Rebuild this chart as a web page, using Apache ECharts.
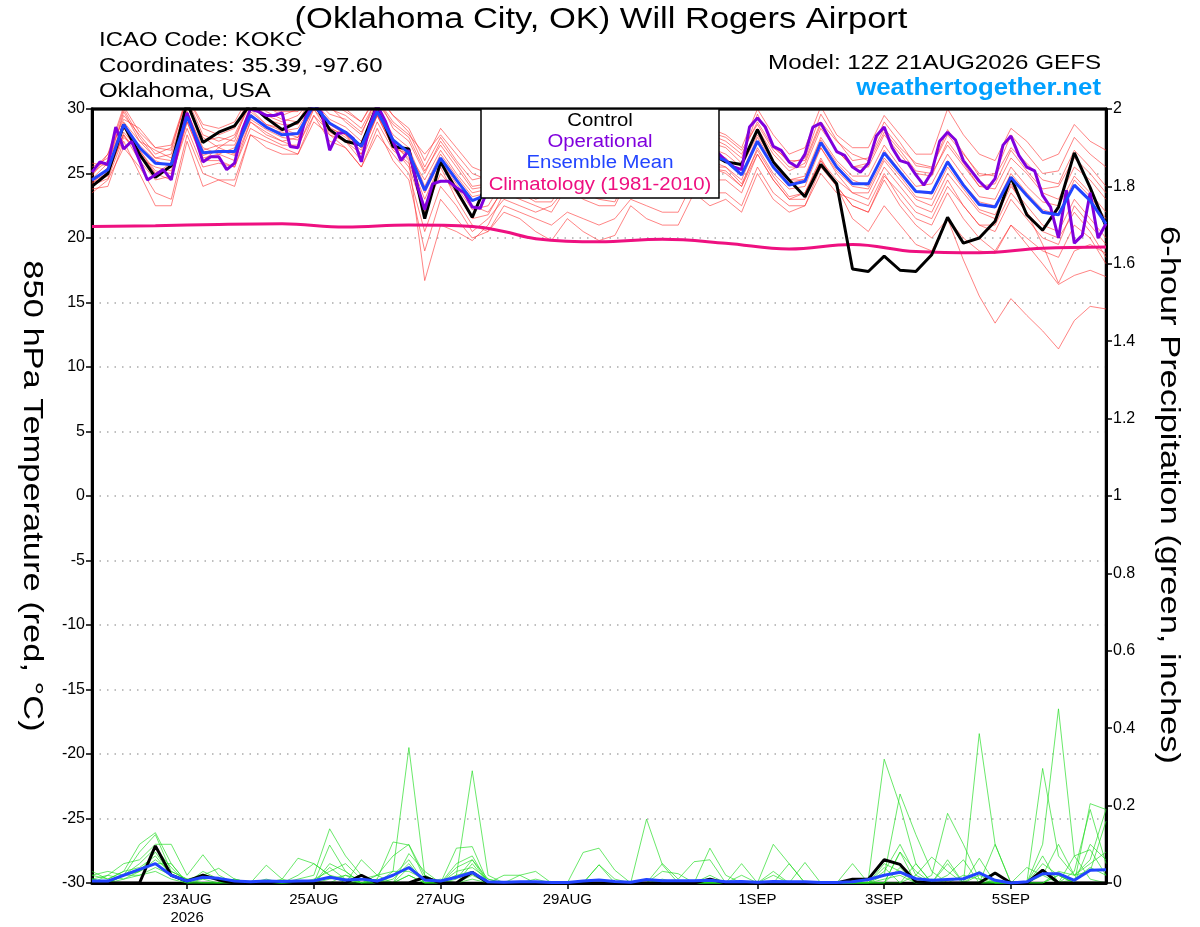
<!DOCTYPE html>
<html><head><meta charset="utf-8">
<script src="https://cdn.jsdelivr.net/npm/echarts@6/dist/echarts.min.js"></script>
<style>html,body{margin:0;padding:0;background:#fff}#c{width:1200px;height:927px}</style>
</head><body><div id="c"></div>
<script>
// ---- Data (x = hours after 12Z 21AUG2026) ----
const stepHours = 6;           // ensemble / control / mean
const opStepHours = 3;         // operational
const tickHours = [36, 84, 132, 180, 252, 300, 348];
const tickLabels = ['23AUG\n2026', '25AUG', '27AUG', '29AUG', '1SEP', '3SEP', '5SEP'];
const tempTicks = {min: -30, max: 30, interval: 5};
const precipTicks = {min: 0, max: 2, interval: 0.2};

const controlTemp = [24.0,25.0,28.8,26.5,24.7,25.6,30.5,27.4,28.2,28.7,
 30.4,29.3,28.4,29.0,30.5,28.4,27.5,27.2,30.3,27.1,
 26.9,21.5,25.9,23.7,21.6,24.5,24.8,24.2,23.8,24.3,
 26.2,25.2,24.6,24.4,26.8,26.0,25.2,25.4,27.4,26.6,
 25.9,25.7,28.4,25.9,24.5,23.2,25.7,24.2,17.6,17.4,
 18.6,17.5,17.4,18.7,21.6,19.6,20.0,21.3,24.7,21.8,
 20.6,22.4,26.6,23.9,20.9];

const meanTemp = [24.5,25.3,28.8,27.0,25.8,25.7,29.4,26.6,26.7,26.7,
 29.5,28.6,28.0,28.1,30.3,28.9,28.2,27.1,29.8,27.6,
 26.6,23.7,26.2,24.5,22.9,23.4,25.0,24.8,24.0,24.2,
 26.3,25.6,25.0,24.9,27.0,26.2,25.5,25.5,27.3,26.5,
 26.0,24.9,27.5,25.5,24.1,24.4,27.4,25.5,24.2,24.2,
 26.6,25.1,23.6,23.5,25.9,24.1,22.6,22.4,24.7,23.3,
 22.0,21.8,24.1,22.9,21.1];

const operationalTemp = [25.1,25.9,25.7,28.6,26.9,27.5,26.0,24.5,24.9,25.3,
 24.5,27.3,29.7,27.9,25.9,26.3,26.3,25.3,25.8,28.4,
 30.0,29.8,29.5,29.5,29.7,27.1,27.0,29.4,30.4,29.7,
 26.8,28.1,28.2,27.7,25.9,28.6,30.3,29.1,27.5,26.0,
 26.8,24.2,22.2,24.2,24.4,24.4,23.9,23.5,22.4,22.3,
 23.8,24.5,25.0,26.5,27.5,26.8,25.6,25.0,24.8,25.5,
 26.0,27.8,28.4,27.0,25.9,25.2,25.0,25.8,26.6,28.0,
 28.5,27.3,26.2,25.6,25.4,26.0,27.0,28.2,27.6,26.6,
 26.0,25.5,25.3,28.6,29.3,28.6,27.1,26.8,25.9,25.5,
 26.5,28.6,28.9,27.8,26.7,26.4,25.5,25.1,25.8,27.9,
 28.6,27.0,26.0,25.8,24.9,24.1,25.1,27.5,28.2,27.6,
 26.0,25.2,24.4,23.8,24.6,27.2,27.9,26.4,25.5,25.2,
 23.3,22.4,20.0,23.7,19.6,20.2,23.5,20.0,21.1];

const climHours = [0,24,48,72,96,120,144,156,168,192,216,240,264,288,312,336,360,384];
const climTemp  = [20.9,20.95,21.05,21.1,20.85,21.0,20.9,20.5,19.95,19.7,19.9,19.6,19.15,19.5,18.95,18.85,19.2,19.3];

const memberTemps = [
 [25.0,26.0,29.5,28.0,26.5,27.0,30.8,28.0,27.5,28.0,30.6,29.5,29.0,29.5,31.0,30.0,29.5,28.5,30.8,29.0,28.0,26.5,28.0,26.5,25.0,24.5,26.5,26.0,25.5,25.8,28.0,27.0,26.5,26.0,28.5,27.5,27.0,26.8,28.8,28.0,27.5,26.5,29.0,27.0,26.0,26.0,29.0,27.5,26.5,26.0,28.5,27.0,25.8,25.5,28.0,26.5,25.0,24.8,27.0,25.8,24.5,24.2,26.8,25.5,24.0],
 [24.0,25.0,28.0,26.5,25.0,24.5,29.0,26.0,26.0,25.5,29.0,28.0,27.5,27.0,30.0,28.0,27.5,26.5,29.5,27.0,25.5,22.0,25.0,23.5,21.5,21.8,24.0,23.8,23.0,23.5,25.5,24.5,24.0,24.0,26.0,25.2,24.5,24.5,26.5,25.5,25.0,24.0,26.5,24.5,23.0,23.0,26.0,24.0,22.5,22.0,24.5,22.5,21.0,20.0,21.5,18.3,15.5,13.4,15.3,14.0,12.8,11.4,13.6,14.7,14.5],
 [23.5,24.5,27.0,25.5,23.5,23.0,28.0,25.0,24.5,24.5,28.0,27.0,26.5,26.5,29.5,27.5,27.0,25.5,28.5,26.0,24.5,19.0,23.0,21.5,20.0,20.5,22.5,22.0,21.5,21.0,22.0,21.5,21.0,21.5,23.0,22.5,22.0,22.0,24.5,23.5,23.5,22.5,25.5,23.5,22.5,22.5,25.0,23.5,23.0,22.5,25.0,23.0,21.5,21.0,23.5,21.5,20.0,19.0,21.0,19.5,18.0,16.4,17.1,17.5,17.0],
 [24.2,25.5,28.5,27.2,26.0,25.5,29.8,27.0,26.5,27.0,29.8,28.8,28.5,28.0,30.5,29.0,28.0,27.0,29.5,27.5,26.0,16.7,21.0,20.5,19.8,21.0,23.5,23.0,22.5,22.0,24.0,23.5,23.0,22.8,25.5,24.5,24.0,24.0,26.5,25.5,25.5,24.5,27.5,25.5,24.5,24.5,27.0,25.0,23.5,23.5,26.0,24.5,23.0,22.5,25.0,23.5,22.0,21.5,24.0,22.5,21.0,20.5,23.0,21.5,20.0],
 [25.5,26.2,30.0,27.8,26.2,26.5,30.5,27.5,27.8,27.5,30.8,29.8,29.2,29.0,31.2,30.2,29.0,28.0,31.0,28.5,27.5,25.0,27.5,25.8,24.0,24.2,26.0,25.8,25.2,25.6,27.5,26.8,26.2,26.0,28.2,27.2,26.6,26.6,28.6,27.8,27.2,26.2,29.6,27.2,25.8,26.2,29.6,27.6,26.0,26.2,29.0,27.4,25.6,25.4,28.4,26.6,24.8,25.0,28.0,26.5,25.0,25.2,27.8,26.5,25.5],
 [24.8,26.5,29.2,28.5,27.0,26.8,31.0,28.5,28.0,28.5,31.0,30.0,29.8,29.8,31.5,30.5,29.8,29.0,31.2,29.5,28.5,26.0,28.5,27.0,25.5,25.0,27.2,26.8,26.0,26.5,28.5,27.5,27.0,26.8,29.0,28.0,27.5,27.5,29.5,28.5,28.0,27.0,30.0,28.0,26.5,27.0,30.2,28.0,27.0,27.0,29.5,28.0,26.5,26.5,30.0,28.0,26.5,26.0,28.5,27.5,26.0,26.5,28.8,27.5,26.8],
 [24.3,24.8,28.2,26.8,25.2,25.0,29.0,26.2,26.5,26.0,29.0,28.2,27.5,27.8,30.0,28.5,28.0,26.5,29.5,27.0,26.5,24.5,26.8,25.0,23.5,23.8,25.5,25.0,24.5,24.8,26.8,26.0,25.5,25.2,27.5,26.5,26.0,25.8,27.8,27.0,26.5,25.5,28.0,26.0,24.5,24.8,27.8,26.0,24.8,24.8,27.2,25.5,24.0,24.2,26.5,24.8,23.2,23.0,25.5,24.0,22.8,22.5,24.8,23.5,22.0],
 [23.8,24.0,27.5,25.0,22.5,22.5,27.5,24.0,24.5,24.0,28.0,27.5,27.0,26.5,29.0,28.0,27.0,25.5,28.0,26.5,25.0,20.5,24.0,22.5,20.5,21.5,23.0,22.5,22.0,22.5,24.0,23.0,22.5,22.5,25.0,24.0,23.5,23.5,25.5,24.5,24.5,23.5,26.5,24.5,23.0,23.5,26.0,24.5,23.5,23.0,25.5,24.0,22.5,22.0,24.5,22.5,21.0,20.5,23.0,21.5,20.0,19.5,22.5,21.0,19.5],
 [24.6,25.8,29.0,27.5,26.2,26.0,29.8,26.8,27.2,27.2,30.0,28.8,28.3,28.5,30.6,29.2,28.6,27.5,30.0,28.0,27.0,24.0,26.5,24.8,23.2,23.5,25.2,25.0,24.3,24.5,26.5,25.8,25.2,25.0,27.2,26.4,25.7,25.6,27.5,26.8,26.2,25.0,27.8,25.8,24.2,24.6,27.6,25.8,24.5,24.0,26.8,25.2,23.6,23.4,26.0,24.2,22.8,22.5,25.0,23.5,22.2,21.8,24.5,23.2,21.5],
 [24.0,25.2,28.0,26.0,24.5,24.8,28.5,25.5,25.8,25.5,28.5,27.8,27.2,27.2,29.5,28.2,27.5,26.0,29.0,26.8,25.8,22.5,25.5,23.0,21.0,20.5,22.0,21.5,20.5,19.8,21.5,20.5,19.8,20.2,22.5,21.5,21.0,21.0,23.5,22.5,23.0,22.0,25.0,23.0,22.0,22.5,25.5,24.0,22.5,22.0,24.8,23.5,22.0,21.5,24.0,22.5,21.0,21.0,23.5,22.0,20.5,20.0,22.0,20.5,18.5],
 [25.2,26.5,30.2,28.2,27.0,27.2,31.0,28.8,28.5,29.0,31.2,30.2,29.5,30.0,31.5,30.8,30.0,29.0,31.0,29.5,28.2,25.5,27.8,26.0,24.5,24.8,26.8,26.5,25.8,26.2,28.2,27.2,26.8,26.5,28.8,27.8,27.2,27.0,29.0,28.2,27.8,26.8,28.8,26.8,25.5,25.5,28.5,26.8,25.5,25.5,28.0,26.5,25.0,24.8,27.5,25.8,24.0,23.8,26.2,25.0,23.5,23.0,25.5,24.5,23.0],
 [24.4,25.0,28.6,26.2,25.5,25.2,29.2,26.4,26.8,26.4,29.2,28.4,27.8,27.6,30.2,28.6,27.8,26.8,29.6,27.2,26.2,23.0,25.8,24.0,22.2,22.5,24.5,24.0,23.2,23.8,25.8,25.0,24.5,24.2,26.5,25.5,25.0,24.8,26.8,26.0,25.5,24.2,26.8,24.8,23.2,23.5,26.2,24.0,21.5,20.5,22.5,21.0,19.5,19.0,21.5,20.0,19.0,18.8,21.0,20.0,19.0,18.5,21.0,20.0,18.0],
 [25.8,25.6,29.8,27.5,26.8,26.2,30.2,27.8,27.0,27.8,30.4,29.2,28.8,28.8,30.8,29.6,29.2,28.2,30.5,28.8,27.8,25.2,27.2,25.5,23.8,24.0,25.8,25.5,24.8,25.2,27.2,26.4,25.8,25.6,27.8,26.8,26.2,26.2,28.2,27.4,27.0,25.8,28.5,26.5,25.2,25.8,28.8,26.8,25.5,25.8,28.2,26.8,25.2,25.0,27.2,25.6,24.0,24.2,26.8,25.2,23.8,24.0,26.2,25.0,23.5],
 [24.1,24.6,27.8,26.8,25.0,25.8,29.6,26.0,27.0,26.5,29.6,28.5,28.2,27.8,30.4,28.8,28.0,27.0,29.8,27.4,26.4,23.5,26.0,24.2,22.5,22.0,23.8,23.5,22.8,22.8,24.8,24.0,23.5,23.2,25.6,24.8,24.2,24.2,26.0,25.4,25.2,24.0,27.0,25.0,23.8,24.0,27.0,25.2,24.0,23.8,26.2,24.8,23.2,23.0,25.5,23.8,22.2,21.8,24.2,22.0,19.5,16.5,19.0,19.5,18.8]
];

const controlPrecip = [0,0,0,0,0.096,0.02,0.005,0.02,0.008,0,
 0,0,0.004,0,0,0,0,0.02,0,0,
 0,0.015,0,0,0.028,0,0,0,0,0,
 0,0,0,0,0,0,0,0,0,0.01,
 0,0,0,0,0,0,0,0,0.01,0.01,
 0.06,0.048,0.003,0,0,0,0,0.026,0,0,
 0.033,0,0,0,0];

const meanPrecip = [0.005,0.005,0.02,0.035,0.05,0.02,0.005,0.015,0.012,0.005,
 0.003,0.005,0.004,0.005,0.006,0.015,0.008,0.01,0.005,0.02,
 0.04,0.008,0.005,0.015,0.027,0.003,0.002,0.003,0.003,0.001,
 0.001,0.005,0.008,0.004,0.002,0.009,0.006,0.006,0.006,0.007,
 0.003,0.004,0.002,0.004,0.003,0.003,0.001,0.001,0.003,0.009,
 0.02,0.028,0.011,0.007,0.009,0.011,0.026,0.007,0,0.003,
 0.024,0.024,0.007,0.033,0.034];

const memberPrecips = [
 [0.02,0.01,0.03,0.1,0.13,0.05,0,0.02,0.01,0, 0,0,0,0,0,0.01,0.02,0,0,0.03, 0.35,0.02,0,0,0.01,0,0,0,0,0, 0,0,0,0,0,0,0,0,0,0, 0,0,0,0,0,0,0,0,0,0.01, 0.32,0.2,0.05,0,0,0,0,0,0,0, 0.1,0.45,0.07,0.01,0],
 [0.01,0,0.02,0.08,0.125,0.03,0.01,0,0,0, 0,0,0,0.01,0.02,0.14,0.07,0.02,0,0, 0.02,0,0,0.02,0.29,0.02,0,0,0,0, 0,0,0,0,0,0,0,0,0,0, 0,0,0,0,0,0,0,0,0,0, 0.02,0.23,0.125,0.03,0,0,0.386,0.1,0,0, 0,0.02,0,0.205,0.19],
 [0,0.02,0.05,0.06,0.1,0.1,0.02,0.073,0.02,0, 0,0.01,0,0,0,0.098,0.03,0,0.01,0.106, 0.098,0.01,0,0.09,0.094,0,0,0,0,0, 0,0,0,0,0,0.165,0.047,0,0,0, 0,0,0,0,0,0,0,0,0,0, 0,0.08,0,0.02,0.18,0.1,0.01,0,0,0, 0.296,0.07,0.02,0.03,0.16],
 [0.03,0.01,0.03,0.04,0.07,0.02,0,0.02,0.038,0.01, 0,0,0,0.02,0.05,0.02,0,0.06,0.02,0, 0.076,0.03,0,0.03,0.04,0.01,0,0,0,0, 0,0.079,0.09,0.033,0,0,0,0,0,0, 0,0,0,0.1,0.05,0,0,0,0,0, 0,0,0.02,0.067,0.03,0,0,0,0,0, 0.02,0,0.03,0.19,0.05],
 [0.01,0,0.02,0.03,0.05,0.05,0,0.01,0,0.01, 0,0.046,0.01,0.064,0.05,0.02,0.01,0,0.02,0.07, 0.1,0.02,0,0.01,0.06,0,0.02,0.02,0.03,0, 0,0,0.047,0,0,0,0,0,0,0.09, 0.02,0,0,0,0,0.053,0,0,0,0, 0.05,0.03,0,0,0.02,0.06,0,0.1,0,0, 0.07,0,0.07,0.086,0.02],
 [0.02,0.03,0.02,0.03,0.08,0.02,0,0.03,0.01,0, 0,0,0,0,0.01,0.03,0.05,0.01,0,0.02, 0.06,0,0,0.05,0.07,0,0,0.02,0,0, 0,0,0.047,0.01,0,0,0.05,0.01,0.055,0.06, 0,0.05,0,0.02,0,0,0,0,0.05,0, 0,0.08,0.03,0,0,0,0.064,0,0,0.04, 0.02,0.1,0.02,0.06,0.19],
 [0,0,0.01,0.02,0.03,0.01,0,0,0,0, 0,0,0,0,0,0,0,0,0,0.01, 0.05,0,0,0,0.05,0,0,0,0,0, 0,0,0,0,0,0,0,0,0,0, 0,0,0,0,0.05,0,0,0,0,0, 0.01,0.02,0,0,0,0,0,0,0,0, 0.05,0.02,0,0,0],
 [0.01,0,0.02,0.02,0.04,0.02,0,0,0,0.01, 0,0,0,0,0,0.04,0.01,0,0,0, 0.04,0,0.01,0,0.02,0,0,0,0,0, 0,0,0,0,0,0,0.03,0.024,0,0, 0,0,0,0,0,0,0,0,0,0, 0.04,0,0.05,0,0.05,0,0.03,0,0,0, 0,0.02,0,0.1,0.06],
 [0.01,0.02,0.01,0.03,0.06,0.03,0.01,0.02,0.01,0, 0,0,0.01,0,0,0,0.02,0.01,0.02,0.03, 0.03,0.01,0,0.02,0.03,0,0,0,0.01,0, 0,0,0,0,0,0.01,0,0,0,0.02, 0,0,0,0.03,0,0,0,0,0,0, 0,0.04,0,0.01,0,0.02,0.01,0,0,0, 0.03,0,0.01,0.04,0.02],
 [0,0,0.02,0.05,0.09,0.04,0,0,0,0, 0,0,0,0,0,0.05,0.03,0,0.01,0, 0.02,0,0,0.04,0.06,0.01,0,0,0,0, 0,0,0,0,0,0,0.01,0,0,0, 0,0.02,0,0,0,0,0,0,0,0, 0.03,0.1,0.02,0,0.06,0,0.02,0,0,0, 0,0.03,0.02,0.05,0.08]
];

// ---- Build chart ----
const FONT = "'Liberation Sans', Arial, Helvetica, sans-serif";
const C_OP = '#8000dd', C_MEAN = '#2244ff', C_CLIM = '#ee1080', C_RED = '#ff3030', C_GREEN = '#22dd22';
const pairs = (arr, step) => arr.map((v, i) => [i * step, v]);
const series = [];
memberTemps.forEach((m, k) => series.push({type:'line', name:'tm'+k, data:pairs(m, stepHours), yAxisIndex:0, symbol:'none',
  lineStyle:{color:C_RED, width:0.8, opacity:0.75}, z:1, silent:true, animation:false}));
memberPrecips.forEach((m, k) => series.push({type:'line', name:'pm'+k, data:pairs(m, stepHours), yAxisIndex:1, symbol:'none',
  lineStyle:{color:C_GREEN, width:0.8, opacity:0.85}, z:1, silent:true, animation:false}));
series.push({type:'line', name:'clim', data:climHours.map((h,i)=>[h, climTemp[i]]), smooth:0.4, yAxisIndex:0, symbol:'none',
  lineStyle:{color:C_CLIM, width:3}, z:3, animation:false});
series.push({type:'line', name:'ctrlP', data:pairs(controlPrecip, stepHours), yAxisIndex:1, symbol:'none',
  lineStyle:{color:'#000', width:3}, z:4, animation:false});
series.push({type:'line', name:'meanP', data:pairs(meanPrecip, stepHours), yAxisIndex:1, symbol:'none',
  lineStyle:{color:C_MEAN, width:3}, z:5, animation:false});
series.push({type:'line', name:'ctrlT', data:pairs(controlTemp, stepHours), yAxisIndex:0, symbol:'none',
  lineStyle:{color:'#000', width:3}, z:4, animation:false});
series.push({type:'line', name:'opT', data:pairs(operationalTemp, opStepHours), yAxisIndex:0, symbol:'none',
  lineStyle:{color:C_OP, width:3}, z:5, animation:false});
series.push({type:'line', name:'meanT', data:pairs(meanTemp, stepHours), yAxisIndex:0, symbol:'none',
  lineStyle:{color:C_MEAN, width:3}, z:6, animation:false});

const graphic = [
  {type:'line', z:140, shape:{x1:91, y1:109, x2:1107, y2:109}, style:{stroke:'#000', lineWidth:3}},
  {type:'rect', z:150, shape:{x:481, y:109, width:238, height:89}, style:{fill:'#fff', stroke:'#000', lineWidth:1.5}},
  {type:'text', z:200, x:600, y:121, scaleX:1.13, style:{text:'Control', fontSize:18, fontFamily:FONT, fill:'#000', align:'center', verticalAlign:'middle'}},
  {type:'text', z:200, x:600, y:142, scaleX:1.13, style:{text:'Operational', fontSize:18, fontFamily:FONT, fill:C_OP, align:'center', verticalAlign:'middle'}},
  {type:'text', z:200, x:600, y:163.5, scaleX:1.13, style:{text:'Ensemble Mean', fontSize:18, fontFamily:FONT, fill:C_MEAN, align:'center', verticalAlign:'middle'}},
  {type:'text', z:200, x:600, y:185, scaleX:1.13, style:{text:'Climatology (1981-2010)', fontSize:18, fontFamily:FONT, fill:C_CLIM, align:'center', verticalAlign:'middle'}},
  {type:'text', z:200, x:601, y:20, scaleX:1.15, style:{text:'(Oklahoma City, OK) Will Rogers Airport', fontSize:30, fontFamily:FONT, fill:'#000', align:'center', verticalAlign:'middle'}},
  {type:'text', z:200, x:99, y:40.5, scaleX:1.14, style:{text:'ICAO Code: KOKC', fontSize:21, fontFamily:FONT, fill:'#000', align:'left', verticalAlign:'middle'}},
  {type:'text', z:200, x:99, y:66, scaleX:1.14, style:{text:'Coordinates: 35.39, -97.60', fontSize:21, fontFamily:FONT, fill:'#000', align:'left', verticalAlign:'middle'}},
  {type:'text', z:200, x:99, y:91.5, scaleX:1.14, style:{text:'Oklahoma, USA', fontSize:21, fontFamily:FONT, fill:'#000', align:'left', verticalAlign:'middle'}},
  {type:'text', z:200, x:1101, y:63.5, scaleX:1.15, style:{text:'Model: 12Z 21AUG2026 GEFS', fontSize:21, fontFamily:FONT, fill:'#000', align:'right', verticalAlign:'middle'}},
  {type:'text', z:200, x:1101, y:89, scaleX:1.12, style:{text:'weathertogether.net', fontSize:23, fontWeight:'bold', fontFamily:FONT, fill:'#00a0ff', align:'right', verticalAlign:'middle'}},
  {type:'text', z:200, x:32, y:496, rotation:-Math.PI/2, scaleX:1.23, style:{text:'850 hPa Temperature (red, °C)', fontSize:28, fontFamily:FONT, fill:'#000', align:'center', verticalAlign:'middle'}},
  {type:'text', z:200, x:1169, y:495, rotation:-Math.PI/2, scaleX:1.23, style:{text:'6-hour Precipitation (green, inches)', fontSize:28, fontFamily:FONT, fill:'#000', align:'center', verticalAlign:'middle'}}
];

const chart = echarts.init(document.getElementById('c'), null, {renderer:'canvas'});
chart.setOption({
  animation:false,
  backgroundColor:'#fff',
  grid:{left:92, right:94, top:109, bottom:44, show:true, borderColor:'#000', borderWidth:2.5, backgroundColor:'transparent'},
  xAxis:{type:'value', min:0, max:384,
    axisLine:{show:true, onZero:false, lineStyle:{color:'#000', width:3}},
    axisTick:{show:true, customValues:tickHours, length:6, lineStyle:{color:'#000', width:1.5}},
    axisLabel:{customValues:tickHours, color:'#000', fontSize:15, fontFamily:FONT, margin:8, lineHeight:18,
      formatter:(v)=>{const k = tickHours.indexOf(v); return k >= 0 ? tickLabels[k] : '';}},
    splitLine:{show:false}},
  yAxis:[
    {type:'value', position:'left', min:tempTicks.min, max:tempTicks.max, interval:tempTicks.interval,
     axisLine:{show:true, onZero:false, lineStyle:{color:'#000', width:3}},
     axisTick:{show:true, length:6, lineStyle:{color:'#000', width:1.5}},
     axisLabel:{color:'#000', fontSize:16, fontFamily:FONT, margin:7},
     splitLine:{show:true, showMinLine:false, showMaxLine:false, lineStyle:{color:'#aaa', width:1.5, type:[1.5,6]}}},
    {type:'value', position:'right', min:precipTicks.min, max:precipTicks.max, interval:precipTicks.interval,
     axisLine:{show:true, onZero:false, lineStyle:{color:'#000', width:3}},
     axisTick:{show:true, length:6, lineStyle:{color:'#000', width:1.5}},
     axisLabel:{color:'#000', fontSize:16, fontFamily:FONT, margin:7, formatter:(v)=>String(Math.round(v*10)/10)},
     splitLine:{show:false}}
  ],
  series,
  graphic
});
</script>
</body></html>
